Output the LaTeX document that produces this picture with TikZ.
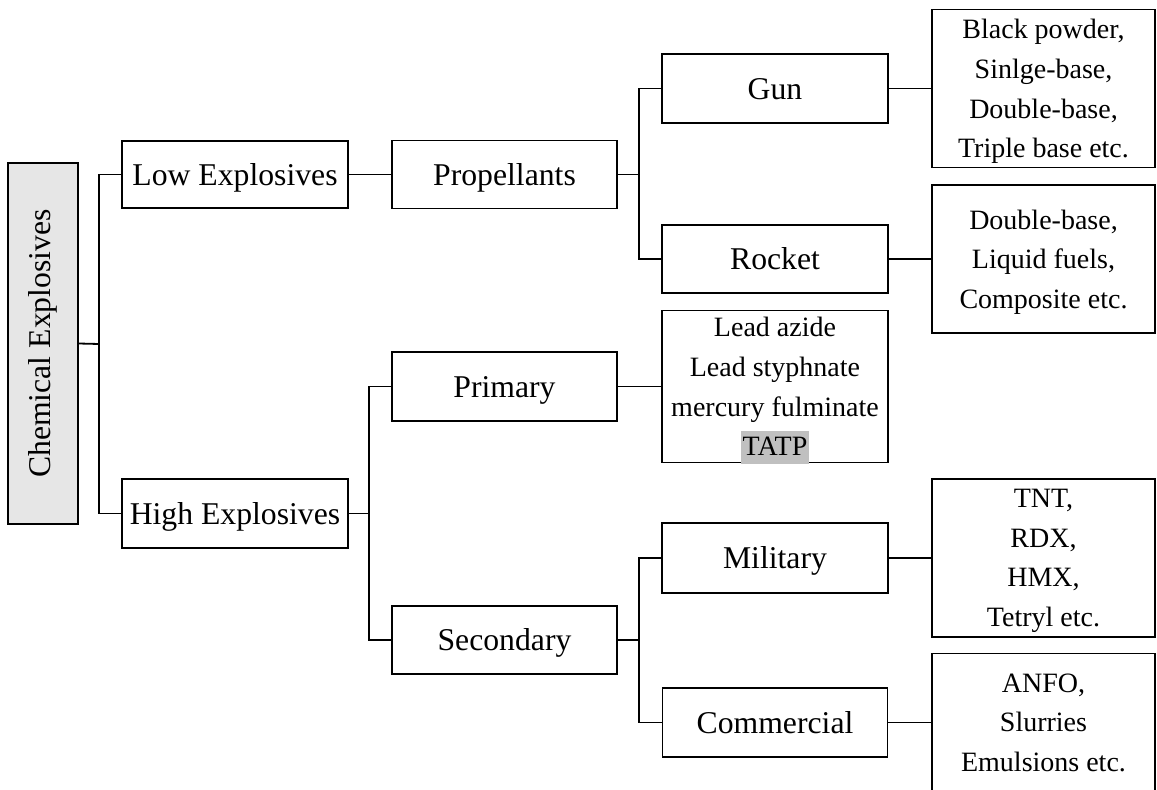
\documentclass[tikz,border=0pt]{standalone}
\usepackage{fontspec}
\setmainfont{Liberation Serif}
\definecolor{chemfill}{HTML}{E6E6E6}
\definecolor{hlgray}{HTML}{C0C0C0}
\tikzset{
  box/.style={draw=black, line width=1.8pt, rectangle, inner sep=0pt, align=center},
  mainbox/.style={box, font=\fontsize{31.7}{38}\selectfont, text height=32pt, text depth=11pt},
  listbox/.style={box, font=\fontsize{28}{39.6}\selectfont},
  conn/.style={draw=black, line width=1.8pt, line cap=rect}
}
\begin{document}
\begin{tikzpicture}[x=1pt,y=-1pt]
\useasboundingbox (0,0) rectangle (1157,790);
\begin{scope}
\clip (0,0) rectangle (1157,790);
% level 0
\node[box, font=\fontsize{31.7}{38}\selectfont, fill=chemfill, minimum width=70pt, minimum height=361pt] (chem) at (43,343.5) {\rotatebox{90}{Chemical Explosives}};
% level 1
\node[mainbox, minimum width=226pt, minimum height=67pt] (low) at (235,174.5) {Low Explosives};
\node[mainbox, minimum width=226pt, minimum height=69pt] (high) at (235,513.5) {High Explosives};
% level 2
\node[mainbox, minimum width=225pt, minimum height=68pt] (prop) at (504.5,174.5) {Propellants};
\node[mainbox, minimum width=225pt, minimum height=69pt] (primary) at (504.5,386.5) {Primary};
\node[mainbox, minimum width=225pt, minimum height=68pt] (secondary) at (504.5,640) {Secondary};
% level 3
\node[mainbox, minimum width=226pt, minimum height=69pt] (gun) at (775,88.5) {Gun};
\node[mainbox, minimum width=226pt, minimum height=68pt] (rocket) at (775,259) {Rocket};
\node[listbox, minimum width=226pt, minimum height=152pt] (lead) at (775,386.5) {Lead azide\\Lead styphnate\\mercury fulminate\\\smash{\setlength\fboxsep{0pt}\colorbox{hlgray}{\rule[-8pt]{0pt}{33pt}\kern2pt TATP\kern2pt}}};
\node[mainbox, minimum width=226pt, minimum height=70pt] (military) at (775,558) {Military};
\node[mainbox, minimum width=225pt, minimum height=69pt] (commercial) at (775,722.5) {Commercial};
% level 4
\node[listbox, minimum width=223pt, minimum height=158pt] (bp) at (1043.5,88.5) {Black powder,\\Sinlge-base,\\Double-base,\\\smash{Triple base etc.}};
\node[listbox, minimum width=223pt, minimum height=148pt] (db) at (1043.5,259) {Double-base,\\Liquid fuels,\\\smash{Composite etc.}};
\node[listbox, minimum width=223pt, minimum height=158pt] (tnt) at (1043.5,558) {TNT,\\RDX,\\HMX,\\\smash{Tetryl etc.}};
\node[listbox, minimum width=223pt, minimum height=138pt] (anfo) at (1043.5,722.5) {ANFO,\\Slurries\\\smash{Emulsions etc.}};
% junctions
\coordinate (j1) at (99,344);
\coordinate (j2) at (639,174.5);
\coordinate (j3) at (369,513.5);
\coordinate (j4) at (639,640);
% connectors
\draw[conn] (chem.east) -- (j1);
\draw[conn] (low.west) -| (j1) |- (high.west);
\draw[conn] (low.east) -- (prop.west);
\draw[conn] (prop.east) -- (j2);
\draw[conn] (gun.west) -| (j2) |- (rocket.west);
\draw[conn] (gun.east) -- (gun.east -| bp.west);
\draw[conn] (rocket.east) -- (rocket.east -| db.west);
\draw[conn] (high.east) -- (j3);
\draw[conn] (primary.west) -| (j3) |- (secondary.west);
\draw[conn] (primary.east) -- (primary.east -| lead.west);
\draw[conn] (secondary.east) -- (j4);
\draw[conn] (military.west) -| (j4) |- (commercial.west);
\draw[conn] (military.east) -- (military.east -| tnt.west);
\draw[conn] (commercial.east) -- (commercial.east -| anfo.west);
\end{scope}
\end{tikzpicture}
\end{document}
